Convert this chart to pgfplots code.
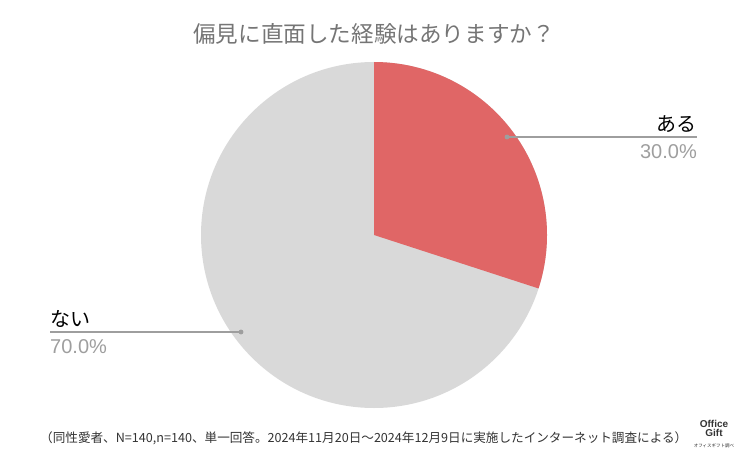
\documentclass[border=0pt]{standalone}
\usepackage{pgfplots}
\pgfplotsset{compat=1.18}
\usepackage{fontspec}
\setmainfont{Noto Sans CJK JP}
\newfontfamily\lat{Liberation Sans}
\definecolor{slicered}{HTML}{E06666}
\definecolor{slicegrey}{HTML}{D9D9D9}
\definecolor{titlegrey}{HTML}{757575}
\definecolor{pctgrey}{HTML}{9E9E9E}
\definecolor{linegrey}{HTML}{9E9E9E}
\def\valA{30}
\def\valB{70}
\pgfmathsetmacro{\angA}{90-360*\valA/100}
\begin{document}
\begin{tikzpicture}
\begin{axis}[width=747bp,height=463bp,scale only axis,hide axis,
  xmin=0,xmax=747,ymin=0,ymax=463,y dir=reverse,clip=false]
\path (axis cs:0,0) rectangle (axis cs:747,463);
% slices
\fill[slicegrey] (axis cs:374,235) -- ++(90:173bp) arc[start angle=90,end angle={\angA-360},radius=173bp] -- cycle;
\fill[slicered] (axis cs:374,235) -- ++(90:173bp) arc[start angle=90,end angle=\angA,radius=173bp] -- cycle;
% leader lines
\addplot[linegrey,line width=1.1pt] coordinates {(507,137) (697,137)};
\addplot[linegrey,line width=1.1pt] coordinates {(50,332) (241,332)};
\addplot[only marks,mark=*,mark size=2.2pt,linegrey] coordinates {(507,137) (241,332)};
% labels
\node[anchor=base east,font=\fontsize{20bp}{21bp}\selectfont,inner sep=0pt] at (axis cs:697,131) {ある};
\node[anchor=base east,font=\lat\fontsize{20bp}{21bp}\selectfont,text=pctgrey,inner sep=0pt] at (axis cs:697,158) {30.0\%};
\node[anchor=base west,font=\fontsize{20bp}{21bp}\selectfont,inner sep=0pt] at (axis cs:50,326) {ない};
\node[anchor=base west,font=\lat\fontsize{20bp}{21bp}\selectfont,text=pctgrey,inner sep=0pt] at (axis cs:50,353) {70.0\%};
% title
\node[anchor=center,font=\fontsize{22.6bp}{24bp}\selectfont,text=titlegrey,inner sep=0pt] at (axis cs:374,34) {偏見に直面した経験はありますか？};
% footer
\node[anchor=west,inner sep=0pt,font=\fontsize{13bp}{14bp}\selectfont,text=black!80] at (axis cs:40,438) {\resizebox{647bp}{!}{（同性愛者、N=140,n=140、単一回答。2024年11月20日～2024年12月9日に実施したインターネット調査による）}};
% logo
\node[anchor=center,inner sep=0pt,font=\lat\bfseries\fontsize{10bp}{10bp}\selectfont,align=center,text=black!80] at (axis cs:714,428) {Office\\[-1bp]Gift};
\node[anchor=center,inner sep=0pt,font=\fontsize{4.5bp}{5bp}\selectfont,text=black!80] at (axis cs:714,446) {オフィスギフト調べ};
\end{axis}
\end{tikzpicture}
\end{document}
